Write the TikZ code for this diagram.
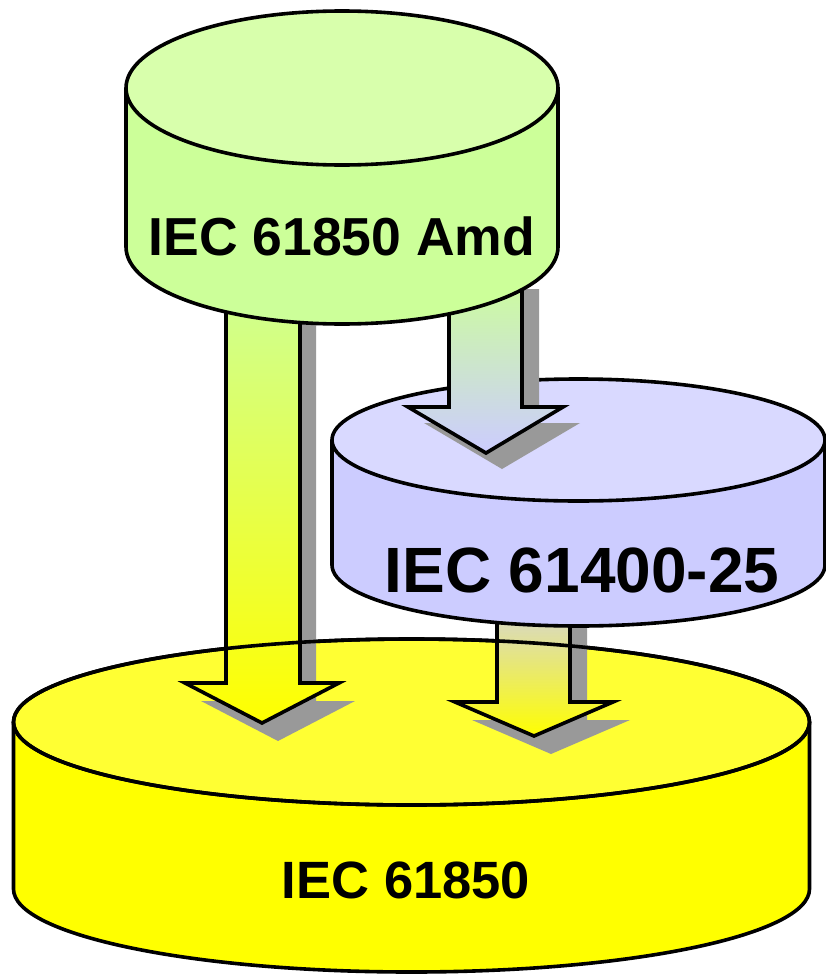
\documentclass[tikz,border=0pt]{standalone}
\usepackage{fontspec}
\setmainfont{Liberation Sans}
\definecolor{greenside}{RGB}{204,255,153}
\definecolor{greentop}{RGB}{216,255,172}
\definecolor{blueside}{RGB}{204,204,255}
\definecolor{bluetop}{RGB}{217,217,255}
\definecolor{yelside}{RGB}{255,255,0}
\definecolor{yeltop}{RGB}{255,255,51}
\definecolor{shadowgray}{RGB}{153,153,153}
\tikzset{
  outline/.style={draw=black, line width=3.6pt, line join=round},
  arrowline/.style={draw=black, line width=3.6pt, line join=miter},
  arrowshadow/.style={fill=shadowgray},
  label/.style={anchor=base, font=\bfseries, text=black, inner sep=0pt},
}
% #1 cx, #2 rx, #3 top-ellipse centre y, #4 bottom-ellipse centre y, #5 ry, #6 side colour, #7 top colour
\newcommand\mycylinder[7]{%
  \fill[#6] (#1-#2,#3) -- (#1-#2,#4) arc[start angle=180,end angle=360,x radius=#2pt,y radius=#5pt] -- (#1+#2,#3) -- cycle;
  \draw[outline] (#1-#2,#3) -- (#1-#2,#4) arc[start angle=180,end angle=360,x radius=#2pt,y radius=#5pt] -- (#1+#2,#3);
  \filldraw[outline, fill=#7] (#1,#3) ellipse[x radius=#2pt, y radius=#5pt];
}
% #1 shaft left, #2 shaft right, #3 top, #4 head base, #5 wing left, #6 wing right, #7 tip x, #8 tip y
\newcommand\myblockarrow[9]{%
  \path[#9] (#1,#3) -- (#1,#4) -- (#5,#4) -- (#7,#8) -- (#6,#4) -- (#2,#4) -- (#2,#3) -- cycle;
}
\begin{document}
\begin{tikzpicture}[x=1pt, y=-1pt]
  \fill[white] (0,0) rectangle (826,974);
  \useasboundingbox (0,0) rectangle (826,974);

  % bottom: IEC 61850
  \mycylinder{411.5}{398}{722}{889}{83}{yelside}{yeltop}
  \node[label, font=\bfseries\fontsize{52.5}{60}\selectfont] (base) at (406,898) {IEC 61850};

  % arrow Amd -> 61850
  \myblockarrow{242}{316}{288}{701}{201}{355}{278}{741}{arrowshadow}
  \myblockarrow{226}{300}{270}{683}{185}{339}{262}{723}{arrowline, top color=greenside, bottom color=yelside}
  % arrow 61400-25 -> 61850
  \myblockarrow{514}{587}{598}{720}{472}{630}{551}{754}{arrowshadow}
  \myblockarrow{497}{570}{580}{702}{455}{613}{534}{736}{arrowline, top color=blueside, bottom color=yelside}
  % outline of the top face over the arrows
  \draw[outline] (411.5,722) ellipse[x radius=398pt, y radius=83pt];

  % middle: IEC 61400-25
  \mycylinder{578.5}{246.5}{440}{565}{61}{blueside}{bluetop}
  \node[label, font=\bfseries\fontsize{64}{70}\selectfont] (iec25) at (582,592) {IEC 61400-25};

  % arrow Amd -> 61400-25
  \myblockarrow{465}{539}{289}{423}{424}{580}{502}{469}{arrowshadow}
  \myblockarrow{449}{522}{273}{407}{408}{563}{486}{453}{arrowline, top color=greenside, bottom color=blueside}

  % top: IEC 61850 Amd
  \mycylinder{342}{216}{88}{247}{77}{greenside}{greentop}
  \node[label, font=\bfseries\fontsize{53.5}{60}\selectfont] (amd) at (342,255) {IEC 61850 Amd};
\end{tikzpicture}
\end{document}
